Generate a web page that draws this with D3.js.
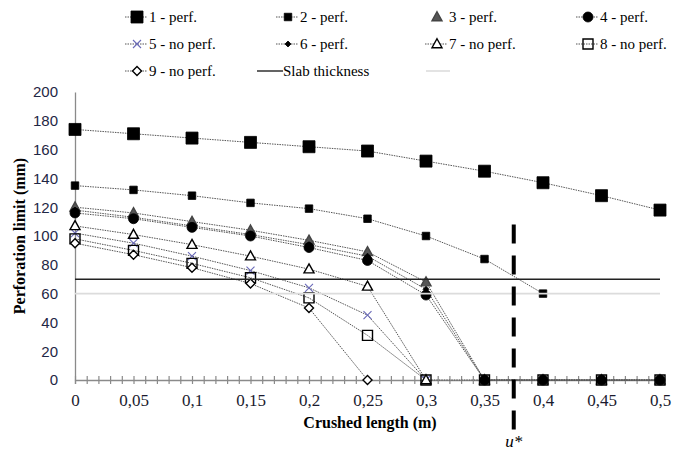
<!DOCTYPE html>
<html><head><meta charset="utf-8">
<script src="https://cdn.jsdelivr.net/npm/d3@7"></script>
<style>body{margin:0;background:#fff}svg{display:block}</style>
</head><body>
<svg id="c" width="674" height="452"></svg>
<script>
const xValues = [0,0.05,0.1,0.15,0.2,0.25,0.3,0.35,0.4,0.45,0.5];
const s1 = [174,171,168,165,162,159,152,145,137,128,118];
const s2 = [135,132,128,123,119,112,100,84,60,null,null];
const s3 = [120,116,110,104,97,89,68,0,0,0,0];
const s4 = [116,112,106,100,92,83,59,0,0,0,0];
const s5 = [102,95,86,76,64,45,0,null,null,null,null];
const s6 = [118,113,107,101,94,86,63,0,0,0,0];
const s7 = [107,101,94,86,77,65,0,null,null,null,null];
const s8 = [98,90,81,71,57,31,0,0,0,0,0];
const s9 = [95,87,78,67,50,0,null,null,null,null,null];
const slabThickness = 70;
const greyRef = 60;
const uStar = 0.375;
const seriesNames = ["1 - perf.","2 - perf.","3 - perf.","4 - perf.","5 - no perf.","6 - perf.","7 - no perf.","8 - no perf.","9 - no perf."];
const xTickLabels = ["0","0,05","0,1","0,15","0,2","0,25","0,3","0,35","0,4","0,45","0,5"];
const yTicks = [0,20,40,60,80,100,120,140,160,180,200];

const svg = d3.select("#c");
const x = d3.scaleLinear().domain([0,0.5]).range([75,660]);
const y = d3.scaleLinear().domain([0,200]).range([380,92]);

const styles = [
  {sym:"square", size:12, fill:"#000", stroke:"#000"},
  {sym:"square", size:7.5, fill:"#000", stroke:"#000"},
  {sym:"triangle", size:10, fill:"#555", stroke:"#444", noLegendLine:true},
  {sym:"circle", size:10, fill:"#000", stroke:"#000"},
  {sym:"x", size:8, fill:"none", stroke:"#6a6ab8"},
  {sym:"diamond", size:6, fill:"#000", stroke:"#000"},
  {sym:"triangle", size:10, fill:"#fff", stroke:"#000"},
  {sym:"square", size:10, fill:"none", stroke:"#000"},
  {sym:"diamond", size:9, fill:"#fff", stroke:"#000"}
];
const allSeries = [s1,s2,s3,s4,s5,s6,s7,s8,s9];

function markerPath(sym, s){
  const h = s/2;
  if(sym==="square") return `M${-h},${-h}H${h}V${h}H${-h}Z`;
  if(sym==="circle") return d3.symbol(d3.symbolCircle, Math.PI*h*h)();
  if(sym==="triangle") return `M0,${-h*1.05}L${h},${h*0.75}L${-h},${h*0.75}Z`;
  if(sym==="diamond") return `M0,${-h}L${h},0L0,${h}L${-h},0Z`;
  if(sym==="x") return `M${-h},${-h}L${h},${h}M${-h},${h}L${h},${-h}`;
}
function drawMarker(g, st, cx, cy){
  g.append("path").attr("d", markerPath(st.sym, st.size))
    .attr("transform",`translate(${cx},${cy})`)
    .attr("fill", st.fill).attr("stroke", st.stroke)
    .attr("stroke-width", st.sym==="x"?1.1:(st.fill==="#000"?0.8:1.4));
}

// Axes
const yAxis = d3.axisLeft(y).tickValues(yTicks).tickSize(0).tickSizeOuter(0).tickPadding(17);
const gy = svg.append("g").attr("transform","translate(75,0)").call(yAxis);
gy.select(".domain").attr("stroke","#8a8a8a").attr("stroke-width",1.3);
gy.selectAll("text").attr("font-family","'Liberation Sans', Arial, sans-serif").attr("font-size",15).attr("fill","#1f2745");

const minorTicks = d3.range(0,51).map(i=>i/100);
const gxT = svg.append("g").attr("transform","translate(0,380)")
  .call(d3.axisBottom(x).tickValues(minorTicks).tickFormat("").tickSizeOuter(0).tickSize(4));
gxT.select(".domain").attr("stroke","#8a8a8a").attr("stroke-width",1.3);
gxT.selectAll(".tick line").attr("y1",-4).attr("y2",4).attr("stroke","#8a8a8a").attr("stroke-width",1.2);

const gxL = svg.append("g").attr("transform","translate(0,380)")
  .call(d3.axisBottom(x).tickValues(xValues).tickFormat((d,i)=>xTickLabels[i]).tickSize(0).tickPadding(14));
gxL.select(".domain").remove();
gxL.selectAll("text").attr("font-family","'Liberation Serif', 'Times New Roman', serif").attr("font-size",17).attr("fill","#1a1a2e");

// Axis titles
svg.append("text").attr("x",370).attr("y",428).attr("text-anchor","middle")
  .attr("font-family","'Liberation Serif', serif").attr("font-weight","bold").attr("font-size",16)
  .text("Crushed length (m)");
svg.append("text").attr("transform","translate(25,236) rotate(-90)").attr("text-anchor","middle")
  .attr("font-family","'Liberation Serif', serif").attr("font-weight","bold").attr("font-size",16)
  .text("Perforation limit (mm)");

// Series lines
const line = d3.line().defined(d=>d[1]!=null).x(d=>x(d[0])).y(d=>y(d[1]));
allSeries.forEach((s)=>{
  svg.append("path").datum(xValues.map((xv,i)=>[xv,s[i]]))
    .attr("d", line).attr("fill","none").attr("stroke","#555").attr("stroke-width",1).attr("stroke-dasharray","1.5,1");
});
// Markers
allSeries.forEach((s,k)=>{
  const g = svg.append("g");
  xValues.forEach((xv,i)=>{ if(s[i]!=null) drawMarker(g, styles[k], x(xv), y(s[i])); });
});

// Slab thickness & grey reference line
svg.append("path").datum(xValues.map(v=>[v,slabThickness])).attr("d",line)
  .attr("fill","none").attr("stroke","#222").attr("stroke-width",1.4);
svg.append("path").datum(xValues.map(v=>[v,greyRef])).attr("d",line)
  .attr("fill","none").attr("stroke","#dcdcdc").attr("stroke-width",1.6);

// u* dashed line
svg.append("line").attr("x1",x(uStar)).attr("x2",x(uStar)).attr("y1",y(108)).attr("y2",430)
  .attr("stroke","#000").attr("stroke-width",4).attr("stroke-dasharray","19,12");
svg.append("text").attr("x",x(uStar)).attr("y",447).attr("text-anchor","middle")
  .attr("font-family","'Liberation Serif', serif").attr("font-style","italic").attr("font-size",17)
  .text("u*");

// Legend
const legX = [137,288,437,588];
const legY = [17,44,71];
const legFont = "'Liberation Serif', 'Times New Roman', serif";
const lg = svg.append("g");
seriesNames.forEach((name,k)=>{
  const col = k%4, row = Math.floor(k/4);
  const mx = legX[col], my = legY[row];
  if(!styles[k].noLegendLine)
    lg.append("line").attr("x1",mx-12).attr("x2",mx+10).attr("y1",my).attr("y2",my)
      .attr("stroke","#555").attr("stroke-width",1).attr("stroke-dasharray","1.5,1");
  drawMarker(lg, styles[k], mx, my);
  lg.append("text").attr("x",mx+12).attr("y",my).attr("dy","0.35em")
    .attr("font-family",legFont).attr("font-size",15).text(name);
});
lg.append("line").attr("x1",257).attr("x2",283).attr("y1",legY[2]).attr("y2",legY[2]).attr("stroke","#222").attr("stroke-width",1.4);
lg.append("text").attr("x",283).attr("y",legY[2]).attr("dy","0.35em").attr("font-family",legFont).attr("font-size",15).text("Slab thickness");
lg.append("line").attr("x1",426).attr("x2",450).attr("y1",legY[2]).attr("y2",legY[2]).attr("stroke","#dcdcdc").attr("stroke-width",1.6);
</script>
</body></html>
